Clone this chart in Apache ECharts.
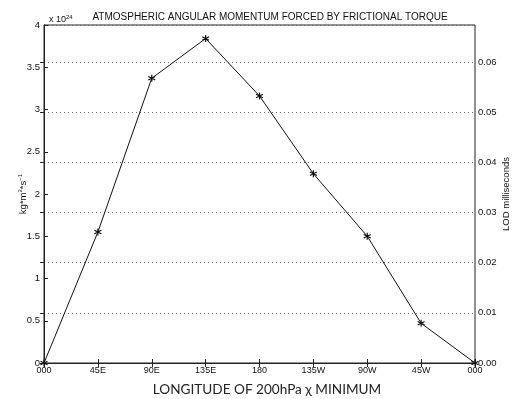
<!DOCTYPE html>
<html>
<head>
<meta charset="utf-8">
<script src="https://cdn.jsdelivr.net/npm/echarts@6/dist/echarts.min.js"></script>
<style>
  html, body { margin: 0; padding: 0; background: #fff; }
  #chart { width: 512px; height: 399px; }
</style>
</head>
<body>
<div id="chart"></div>
<script>
// longitude of the 200hPa chi minimum
var longitudes = ["000", "45E", "90E", "135E", "180", "135W", "90W", "45W", "000"];
// angular momentum, units of 10^24 kg m^2 s^-1
var momentum = [0, 1.55, 3.37, 3.84, 3.16, 2.24, 1.50, 0.47, 0];
var leftTicks = [0, 0.5, 1, 1.5, 2, 2.5, 3, 3.5, 4];
var lodMax = 0.0674;

var chart = echarts.init(document.getElementById("chart"));
var font = "Liberation Sans";

var option = {
  animation: false,
  textStyle: { fontFamily: font },
  title: [
    {
      text: "ATMOSPHERIC ANGULAR MOMENTUM FORCED BY FRICTIONAL TORQUE",
      left: 265,
      top: 7,
      textAlign: "center",
      textStyle: { fontSize: 10, fontWeight: "normal", color: "#111", fontFamily: font },
    },
    {
      text: "x 10{s|24}",
      left: 44,
      top: 9,
      textStyle: {
        fontSize: 9, fontWeight: "normal", color: "#111", fontFamily: font,
        rich: { s: { fontSize: 6, verticalAlign: "top", padding: [0, 0, 6, 0] } },
      },
    },
    {
      text: "LONGITUDE OF 200hPa \u03c7 MINIMUM",
      left: 262,
      top: 378,
      textAlign: "center",
      textStyle: { fontSize: 13.6, fontWeight: "normal", color: "#222", fontFamily: "Lato" },
    },
  ],
  grid: {
    left: 44, right: 37, top: 25, bottom: 36,
    containLabel: false, outerBoundsMode: "none",
    show: true, borderColor: "#222", borderWidth: 1,
  },
  xAxis: [
    {
      type: "value",
      min: 0,
      max: 8,
      interval: 1,
      axisLine: { show: true, lineStyle: { color: "#222" } },
      axisTick: { inside: true, length: 4, lineStyle: { color: "#222" } },
      axisLabel: {
        color: "#111", fontSize: 9, margin: 3,
        formatter: function (v) { return longitudes[v]; },
      },
      splitLine: { show: false },
    },
    {
      type: "value",
      position: "top",
      min: 0,
      max: 8,
      interval: 1,
      axisLine: { show: true, lineStyle: { color: "#222" } },
      axisTick: { inside: true, length: 4, lineStyle: { color: "#222" } },
      axisLabel: { show: false },
      splitLine: { show: false },
    },
  ],
  yAxis: [
    {
      type: "value",
      min: leftTicks[0],
      max: leftTicks[leftTicks.length - 1],
      interval: 0.5,
      name: "kg*m{s|2}*s{s|\u22121}",
      nameLocation: "middle",
      nameGap: 15,
      nameMoveOverlap: false,
      nameRotate: 90,
      nameTextStyle: {
        fontSize: 9.5, color: "#111",
        rich: { s: { fontSize: 6, verticalAlign: "top", padding: [0, 0, 6, 0] } },
      },
      axisLine: { show: true, lineStyle: { color: "#222" } },
      axisTick: { inside: true, length: 4, lineStyle: { color: "#222" } },
      axisLabel: { color: "#111", fontSize: 9.5, margin: 4 },
      splitLine: { show: false },
    },
    {
      type: "value",
      min: 0,
      max: lodMax,
      interval: 0.01,
      name: "LOD milliseconds",
      nameLocation: "middle",
      nameGap: 26,
      nameMoveOverlap: false,
      nameRotate: 90,
      nameTextStyle: { fontSize: 9.5, color: "#111" },
      axisLine: { show: true, lineStyle: { color: "#222" } },
      axisTick: { inside: true, length: 4, lineStyle: { color: "#222" } },
      axisLabel: {
        color: "#111", fontSize: 9.5, margin: 3, showMaxLabel: false,
        formatter: function (v) { return v.toFixed(2); },
      },
      splitLine: { show: true, lineStyle: { color: "#666", type: [1, 3], width: 1 } },
    },
  ],
  series: [
    {
      type: "line",
      xAxisIndex: 0,
      yAxisIndex: 0,
      data: momentum.map(function (v, i) { return [i, v]; }),
      lineStyle: { color: "#111", width: 1 },
      symbol: "path://M0,-5L0,5M-4.3,-2.5L4.3,2.5M-4.3,2.5L4.3,-2.5",
      symbolSize: 7,
      showAllSymbol: true,
      itemStyle: { color: "none", borderColor: "#111", borderWidth: 1.2 },
    },
  ],
};

chart.setOption(option);
</script>
</body>
</html>
